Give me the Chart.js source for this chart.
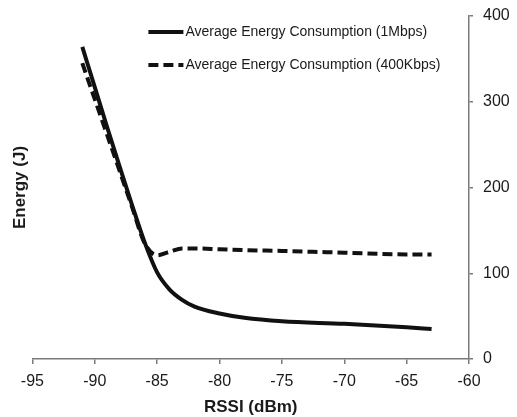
<!DOCTYPE html>
<html>
<head>
<meta charset="utf-8">
<script src="https://cdn.jsdelivr.net/npm/chart.js@4"></script>
<style>
  html, body { margin: 0; padding: 0; background: #fff; }
  #wrap { width: 517px; height: 417px; }
</style>
</head>
<body>
<div id="wrap"><canvas id="energyChart"></canvas></div>
<script>
// values
const rssi = [-91, -90, -89, -88, -87, -86, -85, -84, -83, -82, -80, -78, -75, -70, -65, -63];
const energy1Mbps = [364, 317, 270, 224, 179, 136, 101, 81, 69, 61, 53, 48, 44, 41, 37, 35];
const energy400Kbps = [345, 303, 261, 219, 177, 135, 121, 125, 129, 129, 128, 127, 126, 124, 122, 122];
const seriesLabels = ['Average Energy Consumption (1Mbps)', 'Average Energy Consumption (400Kbps)'];
const xTicks = [-95, -90, -85, -80, -75, -70, -65, -60];
const yTicks = [0, 100, 200, 300, 400];

const axisGray = '#7a7a7a';
const textColor = '#1a1a1a';

function toPoints(values) {
    return rssi.map((x, i) => ({ x: x, y: values[i] }));
}

// simple legend drawn inside the plot, line sample + label
const lineLegend = {
    id: 'lineLegend',
    afterDraw(chart) {
        const ctx = chart.ctx;
        const area = chart.chartArea;
        const x0 = area.left + 116;
        const y0 = area.top + 16;
        chart.data.datasets.forEach((ds, i) => {
            const y = y0 + i * 33;
            ctx.save();
            ctx.strokeStyle = ds.borderColor;
            ctx.lineWidth = ds.borderWidth;
            ctx.setLineDash(ds.borderDash || []);
            ctx.beginPath();
            ctx.moveTo(x0, y);
            ctx.lineTo(x0 + 35, y);
            ctx.stroke();
            ctx.setLineDash([]);
            ctx.fillStyle = textColor;
            ctx.font = '14px "Liberation Sans", Arial, sans-serif';
            ctx.textBaseline = 'middle';
            ctx.fillText(ds.label, x0 + 37, y);
            ctx.restore();
        });
    }
};

const ctx = document.getElementById('energyChart').getContext('2d');

new Chart(ctx, {
    type: 'line',
    data: {
        datasets: [{
            label: seriesLabels[0],
            data: toPoints(energy1Mbps),
            borderColor: '#111',
            borderWidth: 4,
            pointRadius: 0,
            cubicInterpolationMode: 'monotone',
            yAxisID: 'y'
        }, {
            label: seriesLabels[1],
            data: toPoints(energy400Kbps),
            borderColor: '#111',
            borderWidth: 4,
            borderDash: [10, 5],
            pointRadius: 0,
            cubicInterpolationMode: 'monotone',
            yAxisID: 'y'
        }]
    },
    options: {
        responsive: true,
        maintainAspectRatio: false,
        animation: false,
        layout: { padding: { left: 0, right: 8, top: 16, bottom: 0 } },
        plugins: {
            legend: { display: false },
            tooltip: { enabled: false }
        },
        scales: {
            x: {
                type: 'linear',
                position: 'bottom',
                min: -95,
                max: -60,
                afterBuildTicks: (axis) => { axis.ticks = xTicks.map(v => ({ value: v })); },
                afterFit: (axis) => { axis.height = 58; },
                grid: { drawOnChartArea: false, drawTicks: true, tickLength: 5, color: axisGray, lineWidth: 1.5 },
                border: { color: axisGray, width: 1.5 },
                ticks: {
                    color: textColor,
                    padding: 8,
                    maxRotation: 0,
                    font: { family: '"Liberation Sans", Arial, sans-serif', size: 16 }
                },
                title: {
                    display: true,
                    text: 'RSSI (dBm)',
                    color: textColor,
                    padding: { top: 6, bottom: 0 },
                    font: { family: '"Liberation Sans", Arial, sans-serif', size: 17, weight: 'bold', lineHeight: 1.1 }
                }
            },
            y: {
                type: 'linear',
                position: 'right',
                min: 0,
                max: 400,
                afterBuildTicks: (axis) => { axis.ticks = yTicks.map(v => ({ value: v })); },
                afterFit: (axis) => { axis.width = 40; axis.paddingTop = 0; axis.paddingBottom = 0; },
                grid: { drawOnChartArea: false, drawTicks: true, tickLength: 4, color: axisGray, lineWidth: 1.5 },
                border: { color: axisGray, width: 1.5 },
                ticks: {
                    color: textColor,
                    padding: 10,
                    font: { family: '"Liberation Sans", Arial, sans-serif', size: 16 }
                }
            },
            yTitle: {
                type: 'linear',
                position: 'left',
                display: true,
                grid: { display: false, drawTicks: false },
                border: { display: false },
                ticks: { display: false },
                title: {
                    display: true,
                    text: 'Energy (J)',
                    color: textColor,
                    padding: { top: 10, bottom: 2 },
                    font: { family: '"Liberation Sans", Arial, sans-serif', size: 17, weight: 'bold' }
                }
            }
        }
    },
    plugins: [lineLegend]
});
</script>
</body>
</html>
